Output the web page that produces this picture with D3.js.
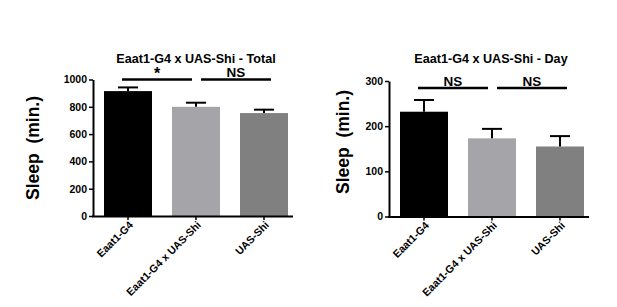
<!DOCTYPE html>
<html>
<head>
<meta charset="utf-8">
<script src="https://cdn.jsdelivr.net/npm/d3@7"></script>
<style>
  html, body { margin: 0; padding: 0; background: #fff; }
  svg { display: block; }
  text { font-family: "Liberation Sans", Arial, sans-serif; font-weight: bold; fill: #000; }
</style>
</head>
<body>
<svg id="chart" width="617" height="307"></svg>
<script>
const categories = ["Eaat1-G4", "Eaat1-G4 x UAS-Shi", "UAS-Shi"];
const totalMeans = [915, 800, 754];
const totalErrors = [27, 30, 25];
const dayMeans = [232, 173, 155];
const dayErrors = [26, 21, 23];
const totalTicks = [0, 200, 400, 600, 800, 1000];
const dayTicks = [0, 100, 200, 300];
const totalSig = ["*", "NS"];
const daySig = ["NS", "NS"];
const barColors = ["#000000", "#a5a5a9", "#808080"];

const svg = d3.select("#chart");
const FONT = "'Liberation Sans', Arial, sans-serif";

function panel(opts) {
  const g = svg.append("g");
  const x = d3.scaleBand().domain(categories).range([opts.x0 + 1, opts.x0 + 205])
    .paddingInner(0.294).paddingOuter(0.147);
  const y = d3.scaleLinear().domain(opts.domain).range([opts.yBottom, opts.yTop]);

  // bars
  g.selectAll("rect.bar").data(opts.means).join("rect")
    .attr("x", (d, i) => x(categories[i]))
    .attr("y", d => y(d))
    .attr("width", x.bandwidth())
    .attr("height", d => y(0) - y(d))
    .attr("fill", (d, i) => barColors[i]);

  // error bars (upper only)
  const cap = 10;
  opts.means.forEach((m, i) => {
    const cx = x(categories[i]) + x.bandwidth() / 2;
    g.append("line").attr("x1", cx).attr("x2", cx)
      .attr("y1", y(m)).attr("y2", y(m + opts.errors[i]))
      .attr("stroke", "#000").attr("stroke-width", 2);
    g.append("line").attr("x1", cx - cap).attr("x2", cx + cap)
      .attr("y1", y(m + opts.errors[i])).attr("y2", y(m + opts.errors[i]))
      .attr("stroke", "#000").attr("stroke-width", 2);
  });

  // y axis
  const yAxis = g.append("g").attr("transform", `translate(${opts.x0},0)`)
    .call(d3.axisLeft(y).tickValues(opts.ticks).tickFormat(d3.format("d"))
      .tickSize(4).tickPadding(2).tickSizeOuter(0));
  yAxis.select(".domain").attr("stroke-width", 2);
  yAxis.selectAll(".tick line").attr("stroke-width", 1.5);
  yAxis.selectAll(".tick text").style("font-size", "10.5px").style("font-weight", "bold")
    .style("font-family", FONT);

  // x axis
  const xAxis = g.append("g").attr("transform", `translate(0,${opts.yBottom})`)
    .call(d3.axisBottom(x).tickSize(4).tickSizeOuter(0).tickPadding(2));
  xAxis.select(".domain").attr("d", `M${opts.x0 - 1},0.5H${opts.x0 + 200}`).attr("stroke-width", 2);
  xAxis.selectAll(".tick line").attr("stroke-width", 1.5);
  xAxis.selectAll(".tick text")
    .style("font-size", "10.6px").style("font-weight", "bold")
    .style("font-family", FONT)
    .attr("text-anchor", "end")
    .attr("transform", "translate(3,7) rotate(-45)")
    .attr("dy", "0.35em").attr("y", 0).attr("x", 0);

  // y label
  g.append("text")
    .attr("transform", `translate(${opts.labelX},${opts.labelY}) rotate(-90)`)
    .attr("text-anchor", "middle")
    .attr("xml:space", "preserve")
    .style("font-size", "17.5px")
    .text("Sleep  (min.)");

  // title
  g.append("text").attr("x", opts.titleX).attr("y", opts.titleY)
    .attr("text-anchor", "middle").style("font-size", "12.6px").text(opts.title);

  // significance bars
  const pairs = [[0, 1], [1, 2]];
  pairs.forEach((p, k) => {
    const c0 = x(categories[p[0]]) + x.bandwidth() / 2;
    const c1 = x(categories[p[1]]) + x.bandwidth() / 2;
    const x1 = k === 0 ? c0 - 6 : c0 + 5;
    const x2 = k === 0 ? c1 - 4 : c1 + 7;
    g.append("line").attr("x1", x1).attr("x2", x2)
      .attr("y1", opts.sigY).attr("y2", opts.sigY)
      .attr("stroke", "#000").attr("stroke-width", 2.6);
    const label = opts.sig[k];
    g.append("text").attr("x", (x1 + x2) / 2)
      .attr("y", label === "*" ? opts.sigY - 0.5 : opts.sigY - 2.5)
      .attr("text-anchor", "middle")
      .style("font-size", label === "*" ? "16px" : "13.5px")
      .text(label);
  });
}

panel({
  x0: 93, yBottom: 216, yTop: 79.5, domain: [0, 1000], ticks: totalTicks,
  means: totalMeans, errors: totalErrors,
  labelX: 39, labelY: 148, titleX: 196, titleY: 63,
  title: "Eaat1-G4 x UAS-Shi - Total", sigY: 79.5, sig: totalSig
});

panel({
  x0: 389, yBottom: 216.5, yTop: 81, domain: [0, 300], ticks: dayTicks,
  means: dayMeans, errors: dayErrors,
  labelX: 349, labelY: 142, titleX: 491, titleY: 63,
  title: "Eaat1-G4 x UAS-Shi - Day", sigY: 88, sig: daySig
});
</script>
</body>
</html>
